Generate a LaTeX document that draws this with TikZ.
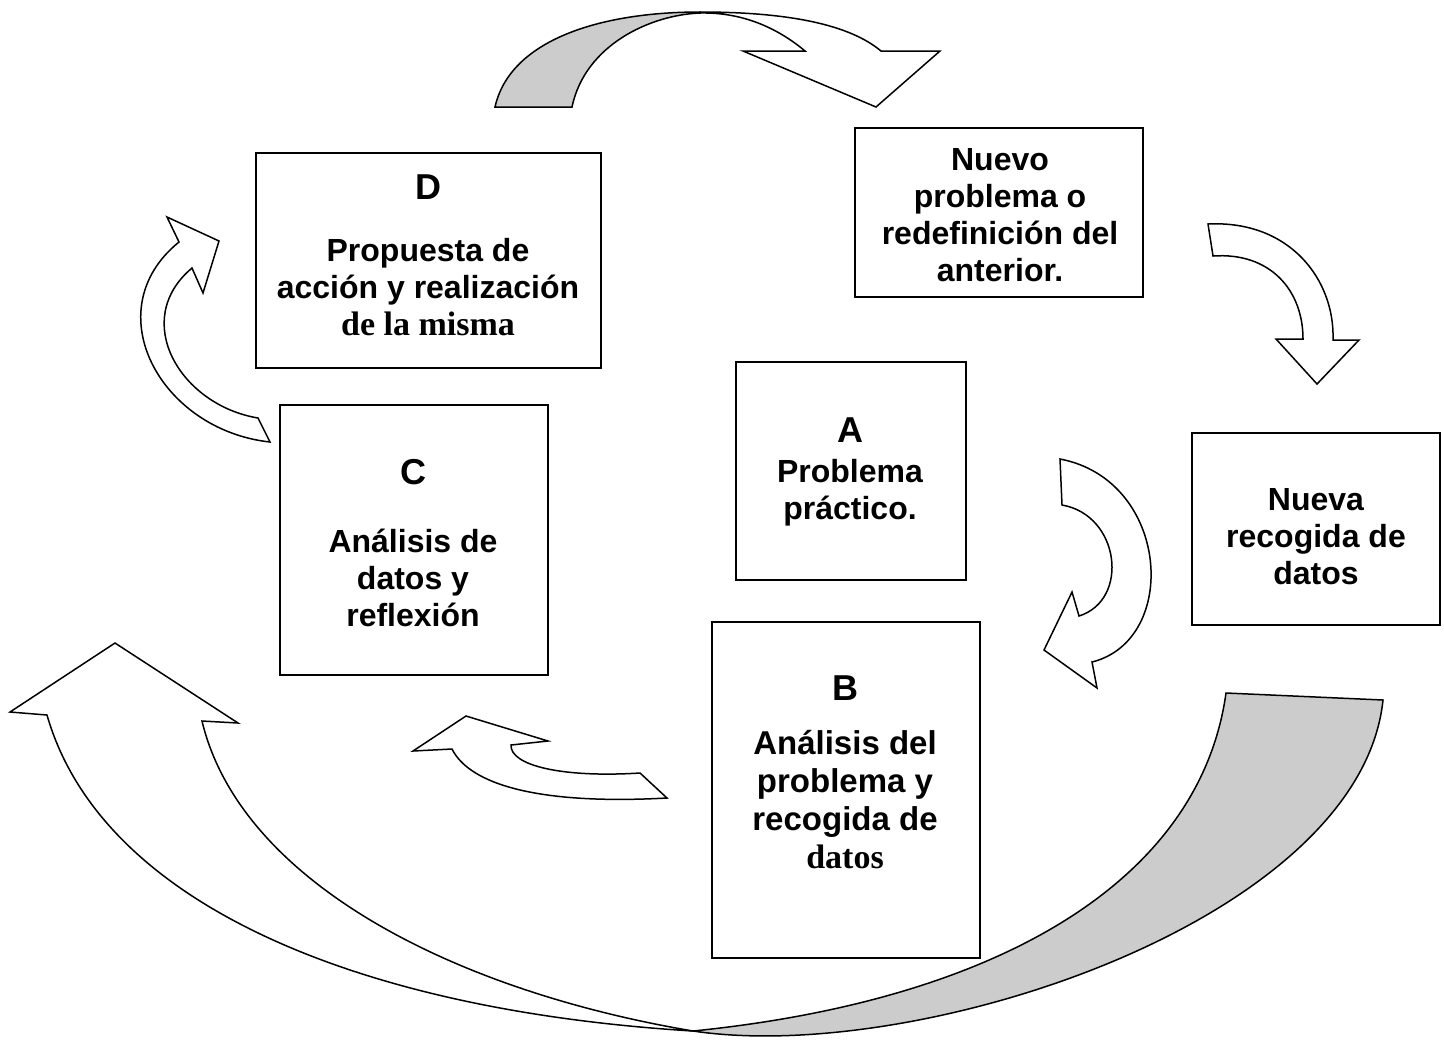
\documentclass[tikz,border=0pt]{standalone}
\usepackage{fontspec}
\setmainfont{Liberation Sans}
\newfontfamily\tmsfont{Liberation Serif}
\usetikzlibrary{fit}
\definecolor{shade}{gray}{0.8}
\newcommand{\tms}{\tmsfont\bfseries\fontsize{17}{19}\selectfont}

\begin{document}
\begin{tikzpicture}[x=0.5pt,y=-0.5pt,
  box/.style={draw,line width=1pt,fill=white,inner sep=0pt},
  txt/.style={font=\bfseries\fontsize{16}{18.5}\selectfont,align=center,inner sep=0pt},
  letter/.style={font=\bfseries\fontsize{18}{20}\selectfont,inner sep=0pt},
  arr/.style={draw,line width=0.75pt,fill=white},
  back/.style={arr,fill=shade}]
  \useasboundingbox (0,0) rectangle (1444,1040);

  \path[arr] (47,715) .. controls (100,900) and (350,1010) .. (693,1031)
    .. controls (450,990) and (240,880) .. (202,721) -- (238,723) -- (115,643) -- (10,712) -- cycle;
  \path[back] (693,1031) .. controls (920,1065) and (1360,920) .. (1383,700) -- (1226,693)
    .. controls (1200,880) and (1000,1000) .. (693,1031) -- cycle;

  \path[back] (495,107) .. controls (510,40) and (600,12) .. (700,12) -- (700,13)
    .. controls (650,15) and (585,45) .. (572,107) -- cycle;
  \path[arr] (700,12) .. controls (790,12) and (850,25) .. (881,51) -- (940,51) -- (876,107) -- (743,51)
    -- (805,51) .. controls (780,30) and (745,12) .. (700,13) -- cycle;
  \path[arr] (270,442) .. controls (160,430) and (95,310) .. (179,242) -- (167,217) -- (219,241) -- (203,293)
    -- (192,268) .. controls (130,320) and (180,405) .. (258,418) -- cycle;
  \path[arr] (1208,224) .. controls (1290,220) and (1335,280) .. (1333,340) -- (1359,340) -- (1317,384)
    -- (1276,339) -- (1303,339) .. controls (1303,290) and (1270,252) .. (1213,256) -- cycle;
  \path[arr] (1060,459) .. controls (1170,480) and (1180,640) .. (1092,662) -- (1097,688) -- (1044,650)
    -- (1072,592) -- (1079,616) .. controls (1130,600) and (1120,515) .. (1062,505) -- cycle;
  \path[arr] (667,798) .. controls (540,805) and (470,785) .. (452,749) -- (413,751) -- (466,716)
    -- (548,741) -- (511,745) .. controls (510,765) and (560,778) .. (640,773) -- cycle;

  \node[box,fit={(256,153)(601,368)}] (D) {};
  \node[box,fit={(855,128)(1143,297)}] (N) {};
  \node[box,fit={(736,362)(966,580)}] (A) {};
  \node[box,fit={(280,405)(548,675)}] (C) {};
  \node[box,fit={(1192,433)(1440,625)}] (R) {};
  \node[box,fit={(712,622)(980,958)}] (B) {};

  \node[letter] (Dl) at (428,187) {D};
  \node[txt] (Dt) at (428,287) {Propuesta de\\acción y realización\\{\tms de la misma}};
  \node[txt] (Nt) at (1000,215) {Nuevo\\problema o\\redefinición del\\anterior.};
  \node[letter] (Al) at (850,430) {A};
  \node[txt] (At) at (850,493) {Problema\\práctico.};
  \node[letter] (Cl) at (413,472) {C};
  \node[txt] (Ct) at (413,578) {Análisis de\\datos y\\reflexión};
  \node[txt] (Rt) at (1316,537) {Nueva\\recogida de\\datos};
  \node[letter] (Bl) at (845,688) {B};
  \node[txt,font=\bfseries\fontsize{16.5}{19}\selectfont] (Bt) at (845,800) {Análisis del\\problema y\\recogida de\\{\tms datos}};
\end{tikzpicture}
\end{document}
